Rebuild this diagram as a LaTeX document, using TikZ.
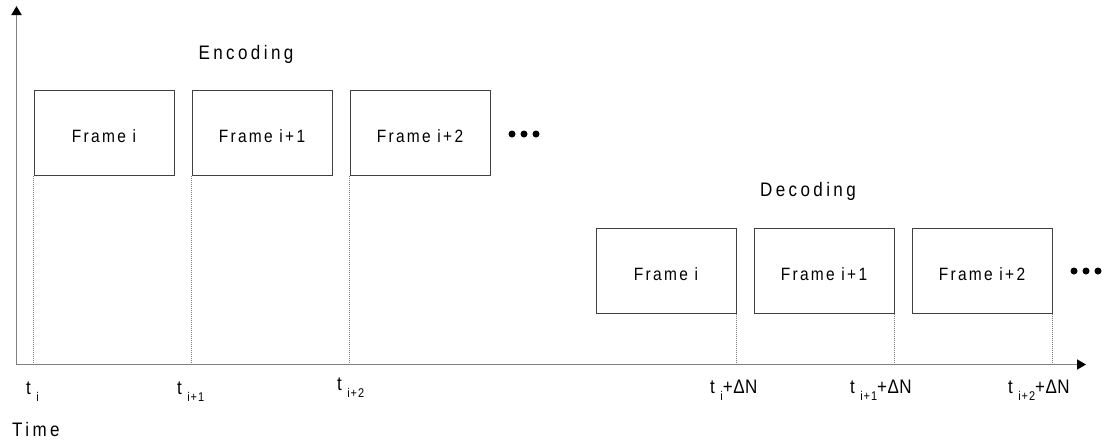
\documentclass[tikz,border=0pt]{standalone}
\usepackage{fontspec}
\setmainfont{Liberation Sans}
\newfontfamily\bigsp[LetterSpace=20]{Liberation Sans}
\newfontfamily\frsp[LetterSpace=15]{Liberation Sans}
\newfontfamily\subsp[LetterSpace=8]{Liberation Sans}
\newfontfamily\tightsp[LetterSpace=3]{Liberation Sans}
\usetikzlibrary{arrows.meta}
\definecolor{axisgray}{gray}{0.5}
\definecolor{boxgray}{gray}{0.25}
\newcommand\LabTxt[1]{\scalebox{1}[1.15]{\bigsp\fontsize{17}{19}\selectfont #1}}
\newcommand\DelTxt[1]{\scalebox{1}[1.15]{\tightsp\fontsize{17}{19}\selectfont #1}}
\newcommand\FrTxt[1]{\scalebox{1}[1.15]{\frsp\fontsize{15.5}{18}\selectfont #1}}
\newcommand\SbTxt[1]{\raisebox{-7pt}{\scalebox{1}[1.15]{\subsp\fontsize{11}{13}\selectfont #1}}}
\tikzset{
  frame/.style={draw=boxgray, line width=1pt, minimum width=140pt, minimum height=85pt, inner sep=0pt, text height=19pt, text depth=0pt},
  axisline/.style={draw=axisgray, line width=1.8pt, -{Triangle[length=9pt,width=10pt,black]}},
  guide/.style={draw=gray, line width=0.7pt, dash pattern=on 1pt off 1pt},
  lbl/.style={inner sep=0pt, anchor=base west},
  dotnode/.style={circle, fill=black, inner sep=0pt, minimum size=7pt}
}
\begin{document}
\begin{tikzpicture}[x=1pt,y=-1pt]
\useasboundingbox (0,0) rectangle (1113,445);
\coordinate (O) at (16.5,364.5);
\coordinate (xend) at (1086,364.5);
\coordinate (yend) at (16.5,6);
\draw[axisline] (O) -- (xend);
\draw[axisline] (O) -- (yend);

\node[inner sep=0pt, anchor=base] (enc) at (246,59) {\LabTxt{Encoding}};
\node[frame] (e1) at (104,133) {\FrTxt{Frame i}};
\node[frame] (e2) at (262,133) {\FrTxt{Frame i+1}};
\node[frame] (e3) at (420,133) {\FrTxt{Frame i+2}};
\node[dotnode] (ed1) at (512,134) {};
\node[dotnode] (ed2) at (524,134) {};
\node[dotnode] (ed3) at (536,134) {};

\node[inner sep=0pt, anchor=base] (dec) at (808,196) {\LabTxt{Decoding}};
\node[frame] (d1) at (666,270.5) {\FrTxt{Frame i}};
\node[frame] (d2) at (824,270.5) {\FrTxt{Frame i+1}};
\node[frame] (d3) at (982,270.5) {\FrTxt{Frame i+2}};
\node[dotnode] (dd1) at (1074,271) {};
\node[dotnode] (dd2) at (1086,271) {};
\node[dotnode] (dd3) at (1098,271) {};

\foreach \b in {e1,e2,e3}{
  \coordinate (\b a) at (\b.south west |- O);
  \draw[guide] (\b.south west) -- (\b a);
}
\foreach \b in {d1,d2,d3}{
  \coordinate (\b a) at (\b.south east |- O);
  \draw[guide] (\b.south east) -- (\b a);
}

\node[lbl] (l1) at (26,394) {\LabTxt{t}\hspace{5.5pt}\SbTxt{i}};
\node[lbl] (l2) at (177,394) {\LabTxt{t}\hspace{5.5pt}\SbTxt{i+1}};
\node[lbl] (l3) at (337,390) {\LabTxt{t}\hspace{5.5pt}\SbTxt{i+2}};

\node[lbl] (l4) at (710,393) {\LabTxt{t}\hspace{5.5pt}\SbTxt{i}\DelTxt{+ΔN}};
\node[lbl] (l5) at (850,393) {\LabTxt{t}\hspace{5.5pt}\SbTxt{i+1}\DelTxt{+ΔN}};
\node[lbl] (l6) at (1008,393) {\LabTxt{t}\hspace{5.5pt}\SbTxt{i+2}\DelTxt{+ΔN}};

\node[lbl] (time) at (12,436) {\LabTxt{Time}};
\end{tikzpicture}
\end{document}
